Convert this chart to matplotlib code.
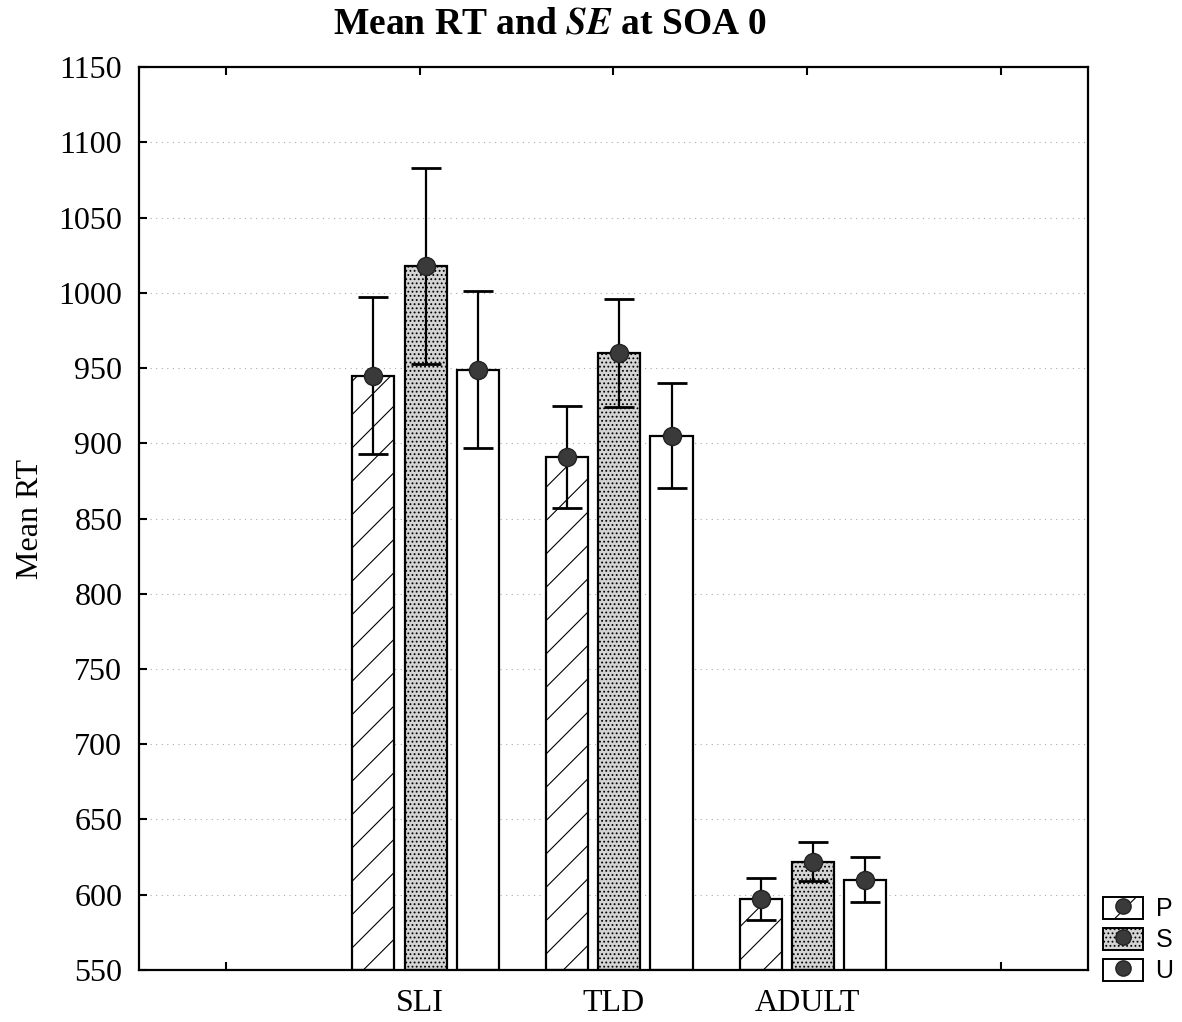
import matplotlib
matplotlib.use("Agg")
import matplotlib.pyplot as plt
from matplotlib.patches import Patch
from matplotlib.lines import Line2D
from matplotlib.legend_handler import HandlerTuple
import numpy as np

groups = ["SLI", "TLD", "ADULT"]
conds = ["P", "S", "U"]
means = {"P": [945, 891, 597], "S": [1018, 960, 622], "U": [949, 905, 610]}
ses = {"P": [52, 34, 14], "S": [65, 36, 13], "U": [52, 35, 15]}

STY = {"P": dict(facecolor="white", hatch="/"),
       "S": dict(facecolor="#d4d4d4", hatch="...."),
       "U": dict(facecolor="white", hatch=None)}

plt.rcParams["hatch.linewidth"] = 0.8
plt.rcParams["hatch.color"] = "#555555"
plt.rcParams["mathtext.fontset"] = "stix"
serif = ["Liberation Serif", "DejaVu Serif"]

fig = plt.figure(figsize=(11.82, 10.22), dpi=100)
ax = fig.add_axes([0.1176, 0.0509, 0.8028, 0.8835])

x = np.arange(len(groups))
w, step = 0.218, 0.27
for i, c in enumerate(conds):
    xs = x + (i - 1) * step + 0.03
    st = STY[c]
    ax.bar(xs, np.array(means[c]) - 550, bottom=550, width=w, facecolor=st["facecolor"],
           hatch=st["hatch"], edgecolor="black", linewidth=1.6, zorder=2)
    ax.errorbar(xs, means[c], yerr=ses[c], fmt="o", color="black", ecolor="black",
                elinewidth=1.6, capsize=11, capthick=2, markersize=13,
                markerfacecolor="#3a3a3a", markeredgecolor="#222222", zorder=3)

ax.set_xlim(-1.45, 3.45)
ax.set_ylim(550, 1150)
ax.set_yticks(np.arange(550, 1151, 50))
ax.set_xticks([-1, 0, 1, 2, 3])
ax.set_xticklabels(["", "SLI", "TLD", "ADULT", ""])
ax.yaxis.grid(True, linestyle=(0, (1, 4)), color="#aaaaaa", linewidth=0.8, zorder=0)
ax.set_axisbelow(True)
ax.tick_params(axis="both", direction="in", labelsize=23, width=1.5, length=6, top=True)
ax.tick_params(axis="y", pad=12)
ax.tick_params(axis="x", pad=14)
for lab in ax.get_xticklabels() + ax.get_yticklabels():
    lab.set_family(serif)
for s in ax.spines.values():
    s.set_linewidth(1.6)

ax.set_ylabel("Mean RT", fontsize=23, family=serif, labelpad=10)
ax.set_title(r"Mean RT and $\mathbfit{SE}$ at SOA 0", fontsize=27, fontweight="bold",
             family=serif, pad=24, x=0.433)

handles = []
for c in conds:
    st = STY[c]
    p = Patch(facecolor=st["facecolor"], hatch=st["hatch"], edgecolor="black", linewidth=1.4)
    m = Line2D([], [], marker="o", linestyle="none", markersize=11,
               markerfacecolor="#3a3a3a", markeredgecolor="#222222")
    handles.append((p, m))
fig.legend(handles, conds, handler_map={tuple: HandlerTuple(ndivide=1)},
           loc="lower left", bbox_to_anchor=(0.929, 0.033), frameon=False,
           handlelength=1.6, handleheight=1.0, labelspacing=0.25,
           handletextpad=0.5, borderpad=0.2, borderaxespad=0.0,
           prop={"family": ["Liberation Sans", "DejaVu Sans"], "size": 18})

fig.savefig("out.png", dpi=100)
